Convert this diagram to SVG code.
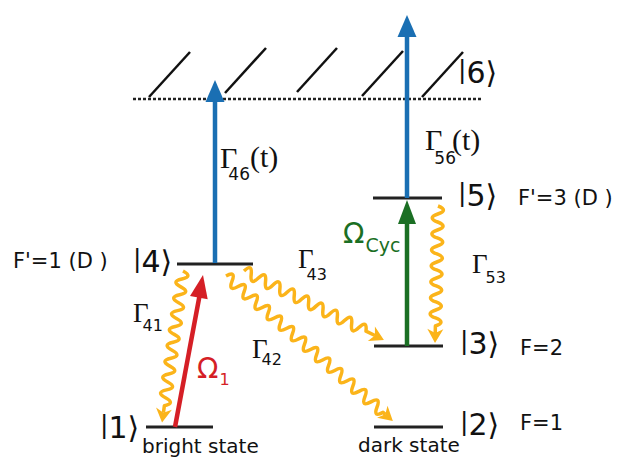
<svg xmlns="http://www.w3.org/2000/svg" width="622" height="457" viewBox="0 0 622 457">
<style>
.lvl{stroke:#222;stroke-width:3;fill:none}
.ket{font-family:"DejaVu Sans",sans-serif;font-size:30px;fill:#111}
.bar{font-size:25px}
.lab{font-family:"DejaVu Sans",sans-serif;font-size:21px;fill:#111}
.g{font-family:"Liberation Serif",serif;fill:#111}
.sub{font-family:"DejaVu Sans",sans-serif;font-size:16px}
.wave{stroke:#FBB41A;stroke-width:3.5;fill:none;stroke-linejoin:round}
.whead{fill:#FBB41A}
.hatch{stroke:#111;stroke-width:2.5}
</style>
<rect width="622" height="457" fill="#fff"/>
<g id="continuum">
<line x1="133" y1="99" x2="483" y2="99" stroke="#222" stroke-width="2.5" stroke-dasharray="3 2"/>
<line class="hatch" x1="149" y1="97" x2="190" y2="52"/>
<line class="hatch" x1="225" y1="93" x2="266" y2="48"/>
<line class="hatch" x1="297" y1="92" x2="337" y2="48"/>
<line class="hatch" x1="362" y1="96" x2="403" y2="51"/>
<line class="hatch" x1="422" y1="97" x2="463" y2="52"/>
<text class="ket" x="458" y="83"><tspan class="bar" dy="-5">|</tspan><tspan dy="5">6⟩</tspan></text>
</g>
<g id="state4">
<line class="lvl" x1="177" y1="264" x2="253" y2="264"/>
<text class="ket" x="133" y="272"><tspan class="bar" dy="-5">|</tspan><tspan dy="5">4⟩</tspan></text>
<text class="lab" x="13" y="268">F'=1 (D )</text>
</g>
<g id="state1">
<line class="lvl" x1="146" y1="427" x2="213" y2="427"/>
<text class="ket" x="100" y="438"><tspan class="bar" dy="-5">|</tspan><tspan dy="5">1⟩</tspan></text>
<text class="lab" x="142" y="453" style="font-size:20px">bright state</text>
</g>
<g id="state5">
<line class="lvl" x1="373" y1="198" x2="442" y2="198"/>
<text class="ket" x="458" y="206"><tspan class="bar" dy="-5">|</tspan><tspan dy="5">5⟩</tspan></text>
<text class="lab" x="518" y="205">F'=3 (D )</text>
</g>
<g id="state3">
<line class="lvl" x1="374" y1="346" x2="443" y2="346"/>
<text class="ket" x="460" y="354"><tspan class="bar" dy="-5">|</tspan><tspan dy="5">3⟩</tspan></text>
<text class="lab" x="520" y="355">F=2</text>
</g>
<g id="state2">
<line class="lvl" x1="374" y1="427" x2="443" y2="427"/>
<text class="ket" x="460" y="435"><tspan class="bar" dy="-5">|</tspan><tspan dy="5">2⟩</tspan></text>
<text class="lab" x="520" y="430">F=1</text>
<text class="lab" x="358" y="452" style="font-size:20px">dark state</text>
</g>
<g id="connectors">
<line x1="215" y1="263" x2="215" y2="98" stroke="#1A6FB3" stroke-width="4.5"/>
<polygon points="215,80 205.5,102 224.5,102" fill="#1A6FB3"/>
<line x1="407" y1="198" x2="407" y2="34" stroke="#1A6FB3" stroke-width="4.5"/>
<polygon points="407,15 397.5,37 416.5,37" fill="#1A6FB3"/>
<line x1="407" y1="346" x2="407" y2="220" stroke="#1B6F24" stroke-width="4.5"/>
<polygon points="407,200 398,224 416,224" fill="#1B6F24"/>
<line x1="175" y1="427" x2="199.5" y2="296" stroke="#D51F26" stroke-width="4.5"/>
<polygon points="203,275 207.7,299.2 190,296" fill="#D51F26"/>
<g transform="translate(183,271) rotate(97.87)">
<path class="wave" d="M0,0 q4,-11 8,0 t8,0 t8,0 t8,0 t8,0 t8,0 t8,0 t8,0 t8,0 t8,0 t8,0 t8,0 t8,0 t8,0 t8,0 t8,0 t8,0 L143,0"/>
<polygon class="whead" points="153,0 139,-8 143,0 139,8"/>
</g>
<g transform="translate(226,276) rotate(40.97)">
<path class="wave" d="M0,0 q4,-11 8,0 t8,0 t8,0 t8,0 t8,0 t8,0 t8,0 t8,0 t8,0 t8,0 t8,0 t8,0 t8,0 t8,0 t8,0 t8,0 t8,0 t8,0 t8,0 t8,0 t8,0 t8,0 t8,0 t8,0 t8,0 t8,0 L211,0"/>
<polygon class="whead" points="221,0 207,-8 211,0 207,8"/>
</g>
<g transform="translate(244,271) rotate(26.24)">
<path class="wave" d="M0,0 q4,-11 8,0 t8,0 t8,0 t8,0 t8,0 t8,0 t8,0 t8,0 t8,0 t8,0 t8,0 t8,0 t8,0 t8,0 t8,0 t8,0 t8,0 L146,0"/>
<polygon class="whead" points="156,0 142,-8 146,0 142,8"/>
</g>
<g transform="translate(438,206) rotate(91.25)">
<path class="wave" d="M0,0 q4,-11 8,0 t8,0 t8,0 t8,0 t8,0 t8,0 t8,0 t8,0 t8,0 t8,0 t8,0 t8,0 t8,0 t8,0 t8,0 L127,0"/>
<polygon class="whead" points="137,0 123,-8 127,0 123,8"/>
</g>
</g>
<g id="labels">
<text class="g" x="220" y="168" font-size="30">Γ<tspan class="sub" dx="-9" dy="12" style="font-size:17px">46</tspan><tspan dy="-13">(t)</tspan></text>
<text class="g" x="425" y="150" font-size="30">Γ<tspan class="sub" dx="-8" dy="14" style="font-size:17px">56</tspan><tspan dx="-4" dy="-14">(t)</tspan></text>
<text class="g" x="133" y="322" font-size="27">Γ<tspan class="sub" dx="-6" dy="9">41</tspan></text>
<text class="g" x="252" y="358" font-size="27">Γ<tspan class="sub" dx="-6" dy="7">42</tspan></text>
<text class="g" x="298" y="268" font-size="27">Γ<tspan class="sub" dx="-7" dy="12">43</tspan></text>
<text class="g" x="472" y="273" font-size="27">Γ<tspan class="sub" dx="-2" dy="10">53</tspan></text>
<text x="197" y="378" font-family="DejaVu Sans, sans-serif" font-size="28" fill="#D51F26">Ω<tspan dx="1" dy="7" font-size="16">1</tspan></text>
<text x="343" y="243" font-family="DejaVu Sans, sans-serif" font-size="28" fill="#1B6F24">Ω<tspan dx="1" dy="9" font-size="19">Cyc</tspan></text>
</g>
</svg>
